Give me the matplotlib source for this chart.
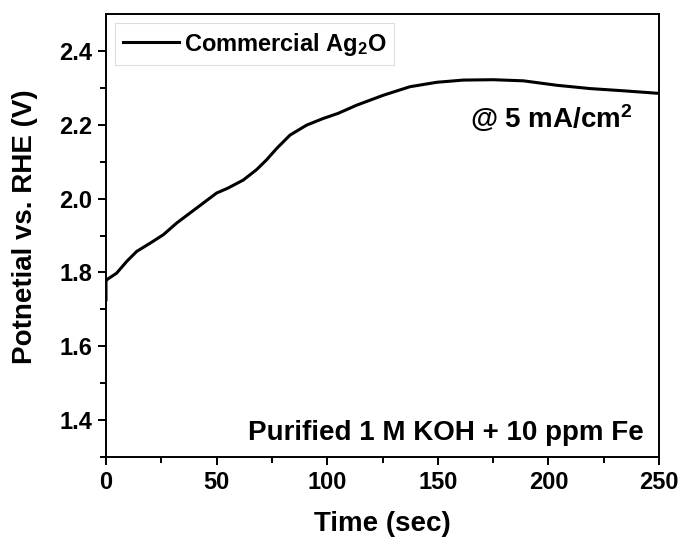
import matplotlib.pyplot as plt
import numpy as np

plt.rcParams['font.family'] = ['Liberation Sans', 'DejaVu Sans']
plt.rcParams['font.weight'] = 'bold'
plt.rcParams['mathtext.fontset'] = 'custom'
plt.rcParams['mathtext.rm'] = 'Liberation Sans:bold'
plt.rcParams['mathtext.default'] = 'rm'

# chronopotentiometry trace, commercial Ag2O
time_s = [0, 0, 0.3, 4.8, 9.4, 13.9, 19.9, 25.9, 32, 38, 44, 50, 55, 62, 68,
          72.6, 77.2, 83.2, 90.7, 98.2, 105, 113.3, 125.4, 137.4, 149.5, 161.5,
          175, 188.7, 203.7, 218.8, 233.9, 250]
potential_v = [1.726, 1.775, 1.780, 1.798, 1.830, 1.857, 1.879, 1.902, 1.934,
               1.961, 1.988, 2.015, 2.028, 2.050, 2.078, 2.105, 2.136, 2.172,
               2.199, 2.217, 2.231, 2.253, 2.280, 2.303, 2.315, 2.321, 2.322,
               2.319, 2.307, 2.298, 2.292, 2.285]

fig = plt.figure(figsize=(6.81, 5.4), dpi=100)
ax = fig.add_axes([106 / 681, 1 - 457 / 540, 553 / 681, 443 / 540])

ax.plot(time_s, potential_v, color='black', lw=2.2, label='Commercial Ag$_2$O',
        solid_joinstyle='round')

ax.set_xlim(0, 250)
ax.set_ylim(1.3, 2.5)
ax.set_xticks(np.arange(0, 251, 50))
ax.set_xticks(np.arange(25, 250, 50), minor=True)
ax.set_yticks([1.4, 1.6, 1.8, 2.0, 2.2, 2.4])
ax.set_yticks(np.arange(1.3, 2.5, 0.2), minor=True)
ax.tick_params(which='both', direction='out', width=1.4, labelsize=17, pad=4)
ax.tick_params(which='major', length=6)
ax.tick_params(which='minor', length=4)
for sp in ax.spines.values():
    sp.set_linewidth(1.4)

ax.set_xlabel('Time (sec)', fontsize=20, fontweight='bold')
ax.set_ylabel('Potnetial vs. RHE (V)', fontsize=20, fontweight='bold')
ax.xaxis.set_label_coords(0.5, -0.121)
ax.yaxis.set_label_coords(-0.123, 0.52)

leg = ax.legend(loc='upper left', fontsize=17, fancybox=False, framealpha=1,
                edgecolor='#dddddd', handlelength=2.4, handletextpad=0.2,
                borderaxespad=0.4, borderpad=0.3)
leg.get_frame().set_linewidth(0.8)

ax.text(0.953, 0.765, '@ 5 mA/cm$^2$', transform=ax.transAxes, fontsize=20,
        fontweight='bold', ha='right', va='center')
ax.text(0.973, 0.055, 'Purified 1 M KOH + 10 ppm Fe', transform=ax.transAxes,
        fontsize=20, fontweight='bold', ha='right', va='center')

fig.savefig('out.png', dpi=100)
